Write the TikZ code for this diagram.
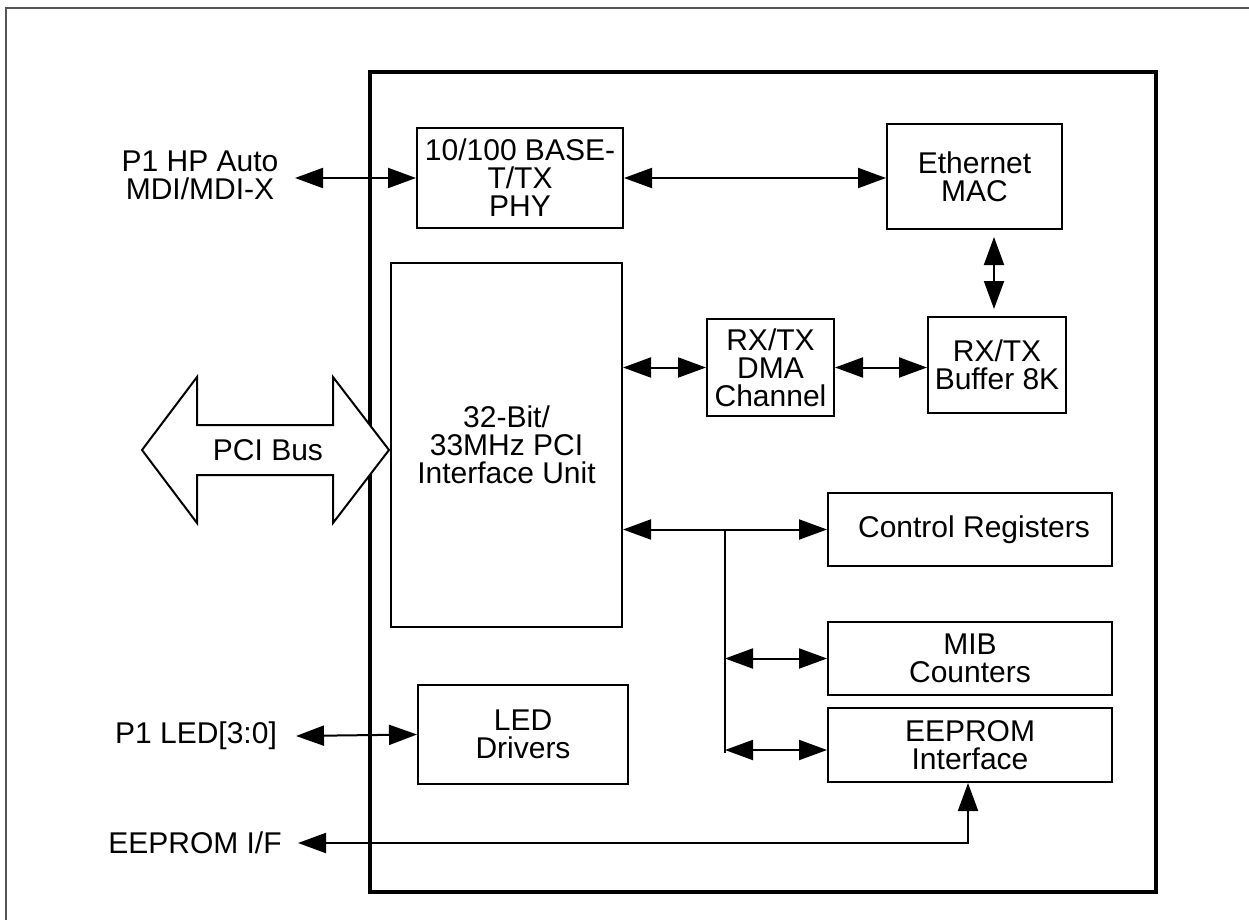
\documentclass[tikz,border=0pt]{standalone}
\usepackage{fontspec}
\setmainfont{Liberation Sans}
\usetikzlibrary{arrows.meta}
\definecolor{framegray}{HTML}{555555}
\begin{document}
\begin{tikzpicture}[x=1pt,y=-1pt,
  txt/.style={font=\fontsize{30}{28}\selectfont},
  blk/.style={draw,line width=2pt,inner sep=0pt,align=center,txt},
  lbl/.style={inner sep=0pt,align=center,txt},
  tip/.style={Triangle[length=28pt,width=20pt]},
  conn/.style={line width=2pt,{Triangle[length=28pt,width=20pt]}-{Triangle[length=28pt,width=20pt]}},
  wire/.style={line width=2pt},
]
\useasboundingbox (0,0) rectangle (1249,920);
\begin{scope}
\clip (0,0) rectangle (1249,920);
\draw[framegray,line width=1.5pt] (6,8) rectangle (1270,940);
\end{scope}

% chip outline
\node[draw,line width=4.5pt,minimum width=786pt,minimum height=820pt,inner sep=0pt] (chip) at (763,482) {};

% blocks
\node[blk,minimum width=206pt,minimum height=100pt] (phy) at (520,178) {10/100 BASE-\\T/TX\\PHY};
\node[blk,minimum width=175pt,minimum height=105pt] (mac) at (974.5,176.5) {Ethernet\\MAC};
\node[blk,minimum width=138pt,minimum height=96pt] (buf) at (997,365) {RX/TX\\Buffer 8K};
\node[blk,minimum width=127pt,minimum height=97pt] (dma) at (770.5,367.5) {RX/TX\\DMA\\Channel};
\node[blk,minimum width=231pt,minimum height=364pt] (pci) at (506.5,445) {32-Bit/\\33MHz PCI\\Interface Unit};
\node[blk,minimum width=284pt,minimum height=73pt] (ctrl) at (970,529.5) {\hspace*{8pt}Control Registers};
\node[blk,minimum width=284pt,minimum height=73pt] (mib) at (970,658.5) {MIB\\Counters};
\node[blk,minimum width=284pt,minimum height=74pt] (eep) at (970,745) {EEPROM\\Interface};
\node[blk,minimum width=210pt,minimum height=99pt] (led) at (523,734.5) {LED\\Drivers};

% external labels
\node[lbl] (hplbl) at (200,175) {P1 HP Auto\\MDI/MDI-X};
\node[lbl] (ledlbl) at (196,736) {P1 LED[3:0]};
\node[lbl] (eeplbl) at (195,843) {EEPROM I/F};
\coordinate (hptip) at (295,178);
\coordinate (ledtip) at (296,736);
\coordinate (eeptip) at (298,843);
\coordinate (ecorner) at (968,843);
\coordinate (brtop) at (725,529.5);

% PCI bus double arrow
\draw[line width=2pt,fill=white,line join=miter]
  (142,450) -- (197,377) -- (197,425) -- (333,425) -- (333,377) -- (389,450)
  -- (333,523) -- (333,475) -- (197,475) -- (197,523) -- cycle;
\node[lbl] (pcibus) at (268,450) {PCI Bus};

% connectors
\draw[conn] (hptip) -- (phy.west);
\draw[conn] (phy.east) -- (phy.east -| mac.west);
\draw[conn,shorten <=7pt,shorten >=7pt] (buf.north -| 994,0) -- (mac.south -| 994,0);
\draw[conn] (pci.east |- dma.west) -- (dma.west);
\draw[conn] (dma.east) -- (dma.east -| buf.west);
\draw[conn] (pci.east |- ctrl.west) -- (ctrl.west);
\draw[wire] (brtop) -- (725,753);
\draw[conn] (brtop |- mib.west) -- (mib.west);
\draw[conn] (725,750) -- (eep.west |- 0,750);
\draw[conn] (ledtip) -- (led.west);
\draw[conn] (eeptip) -- (ecorner) -- (eep.south -| ecorner);
\end{tikzpicture}
\end{document}
